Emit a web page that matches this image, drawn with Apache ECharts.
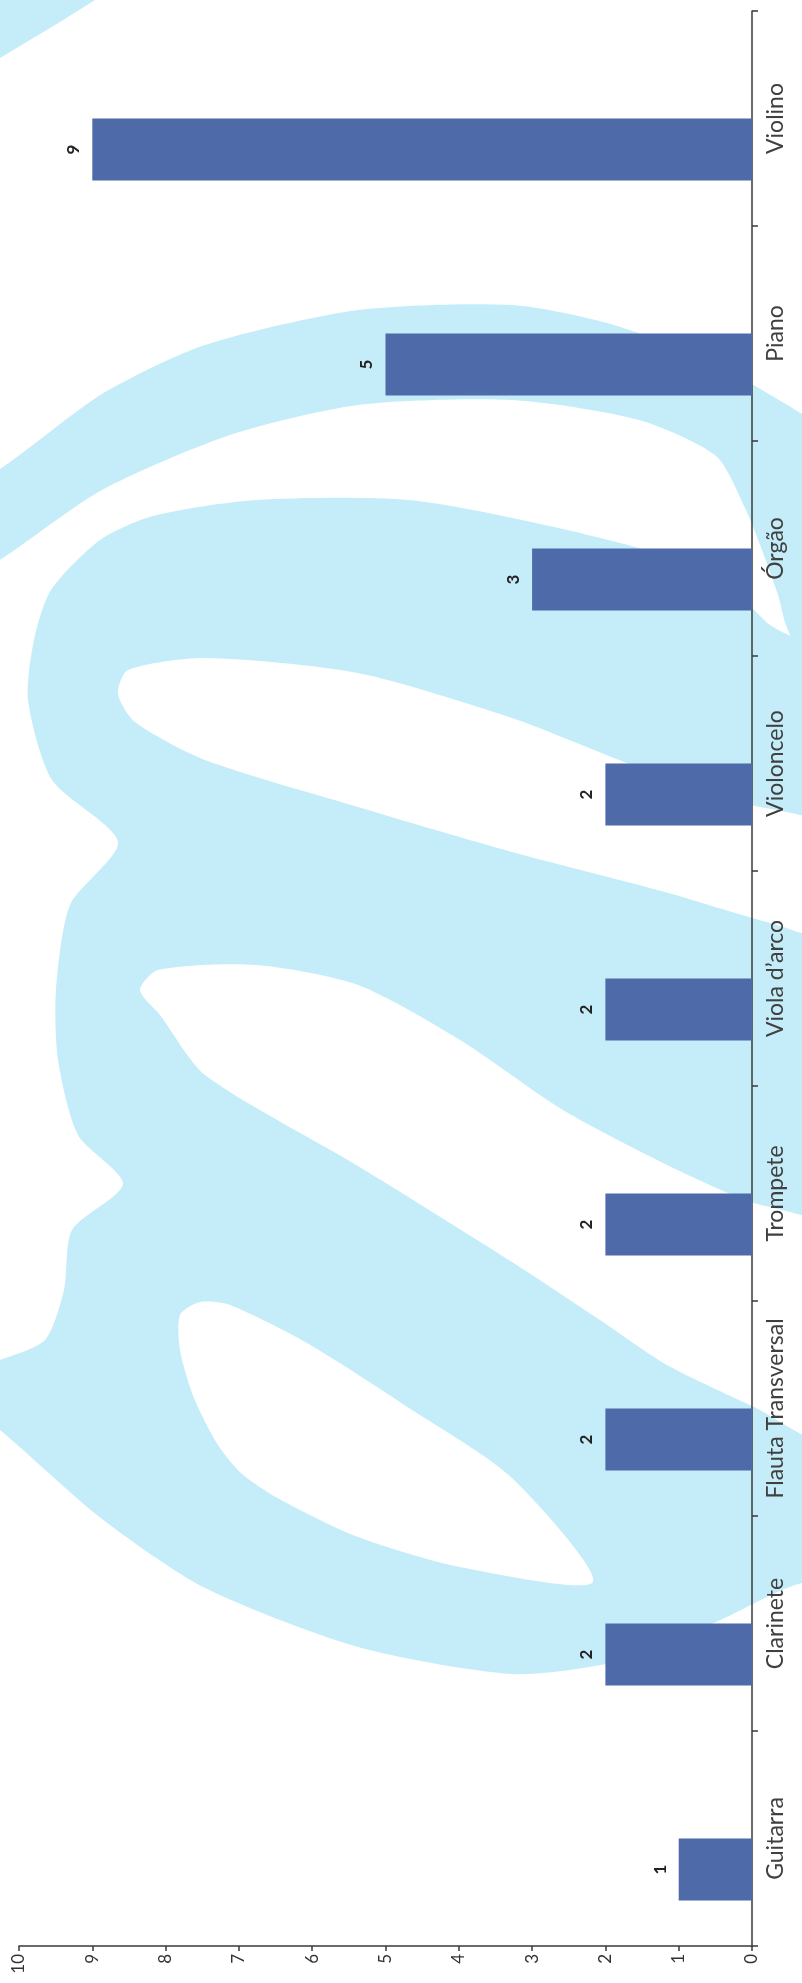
<!DOCTYPE html>
<html>
<head>
<meta charset="utf-8">
<script src="https://cdn.jsdelivr.net/npm/echarts@6/dist/echarts.min.js"></script>
<style>
  html, body { margin: 0; padding: 0; background: #ffffff; }
  #chart { width: 802px; height: 1983px; }
</style>
</head>
<body>
<div id="chart"></div>
<script>
// ---- data ----
const categories = ['Guitarra', 'Clarinete', 'Flauta Transversal', 'Trompete', 'Viola d\u2019arco', 'Violoncelo', 'Órgão', 'Piano', 'Violino'];
const counts = [1, 2, 2, 2, 2, 2, 3, 5, 9];
const valueMin = 0;
const valueMax = 10;
const valueStep = 1;

// ---- background watermark (scanned page decoration, pixel outlines) ----
const wmTopStrip = [[0,0],[95,0],[60,22],[0,58]];
const wmTopBand = [[-30,480],[0,469],[102,394],[205,345],[358,310],[512,305],[614,325],[716,365],[802,414],[850,450],
                   [850,660],[800,650],[786,625],[778,595],[762,550],[745,508],[716,456],[639,420],[512,400],[358,405],[230,435],[102,490],[0,560],[-30,575]];
const wmBody = [[28,700],[34,640],[51,590],[100,540],[153,516],[256,500],[409,500],[563,529],[690,564],[742,598],[770,625],[802,640],[850,645],
                [850,1590],[802,1583],[716,1622],[614,1662],[512,1674],[358,1647],[205,1588],[102,1519],[0,1430],[-30,1410],[-30,1370],[0,1360],
                [45,1340],[64,1290],[72,1230],[123,1184],[78,1135],[58,1060],[56,990],[70,905],[118,842],[52,780]];
const wmHole1 = [[118,694],[128,670],[205,658],[358,673],[512,718],[614,758],[716,797],[850,835],
                 [850,940],[767,922],[665,892],[512,852],[358,807],[205,760],[135,722]];
const wmHole2 = [[140,990],[158,970],[256,965],[358,985],[460,1040],[563,1110],[665,1164],[742,1199],[850,1240],
                 [850,1450],[750,1405],[667,1365],[600,1320],[512,1262],[358,1166],[205,1075],[160,1015]];
const wmHole3 = [[180,1315],[200,1302],[230,1305],[307,1343],[409,1408],[512,1478],[593,1582],
                 [460,1567],[358,1537],[281,1500],[242,1474],[218,1445],[194,1398],[180,1350]];

const WM_BLUE = '#c5edf9';
const FONT = 'Lato, "Open Sans", "Liberation Sans", sans-serif';

function poly(points, fill, smooth) {
  return { type: 'polygon', z: -10, silent: true, shape: { points: points, smooth: smooth }, style: { fill: fill } };
}

const chart = echarts.init(document.getElementById('chart'), null, { renderer: 'canvas' });
chart.setOption({
  animation: false,
  backgroundColor: '#ffffff',
  graphic: [
    poly(wmTopStrip, WM_BLUE, 0),
    poly(wmTopBand, WM_BLUE, 0.25),
    poly(wmBody, WM_BLUE, 0.25),
    poly(wmHole1, '#ffffff', 0.25),
    poly(wmHole2, '#ffffff', 0.25),
    poly(wmHole3, '#ffffff', 0.25)
  ],
  grid: { left: 19, right: 50, top: 11, bottom: 37, containLabel: false },
  xAxis: {
    type: 'value',
    inverse: true,
    min: valueMin,
    max: valueMax,
    interval: valueStep,
    position: 'bottom',
    splitLine: { show: false },
    axisLine: { show: true, lineStyle: { color: '#3a3a3a', width: 1.5 } },
    axisTick: { show: true, length: 5, lineStyle: { color: '#3a3a3a', width: 1.5 } },
    axisLabel: { rotate: 90, margin: 8, fontSize: 17, color: '#333333', fontFamily: FONT }
  },
  yAxis: {
    type: 'category',
    data: categories,
    position: 'right',
    axisLine: { show: true, lineStyle: { color: '#3a3a3a', width: 1.5 } },
    axisTick: { show: true, length: 6, alignWithLabel: false, lineStyle: { color: '#3a3a3a', width: 1.5 } },
    axisLabel: { rotate: 90, margin: 12, fontSize: 23, color: '#404040', fontFamily: FONT, interval: 0 }
  },
  series: [
    {
      type: 'bar',
      name: 'vazio',
      data: [],
      barWidth: 62,
      barGap: '0%'
    },
    {
      type: 'bar',
      name: 'Instrumentos',
      data: counts,
      barWidth: 62,
      barGap: '0%',
      itemStyle: { color: '#4f6aa8' },
      label: {
        show: true,
        position: 'left',
        distance: 10,
        rotate: 90,
        align: 'center',
        verticalAlign: 'bottom',
        fontSize: 17,
        fontWeight: 'bold',
        color: '#222222',
        fontFamily: FONT
      }
    }
  ]
});
</script>
</body>
</html>
